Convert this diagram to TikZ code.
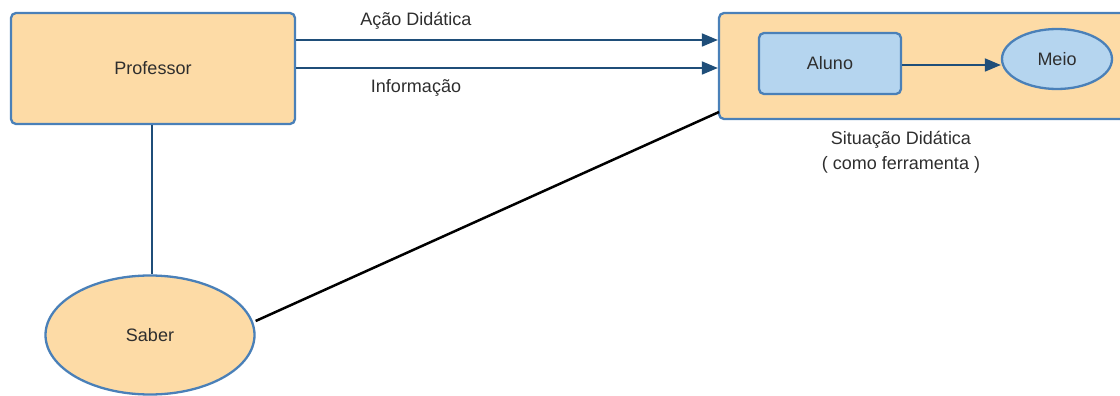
\documentclass[tikz,border=0pt]{standalone}
\usepackage{fontspec}
\setmainfont{Liberation Sans}
\usetikzlibrary{shapes.geometric,arrows.meta}
\definecolor{peach}{HTML}{FDDBA6}
\definecolor{lblue}{HTML}{B5D5EF}
\definecolor{bord}{HTML}{4A80B8}
\definecolor{arr}{HTML}{1F4E79}
\definecolor{txt}{HTML}{2E2E2E}
\tikzset{
  lbl/.style={text=txt,font=\fontsize{18}{21}\selectfont,inner sep=0pt},
  peachbox/.style={draw=bord,line width=2.3pt,fill=peach,rounded corners=5pt,text=txt,font=\fontsize{18}{21}\selectfont},
  bluebox/.style={draw=bord,line width=2.3pt,fill=lblue,rounded corners=5pt,text=txt,font=\fontsize{18}{21}\selectfont},
  arrowln/.style={draw=arr,line width=1.8pt,-{Triangle[length=16pt,width=13pt]}},
}
\begin{document}
\begin{tikzpicture}[x=1pt,y=-1pt]
\useasboundingbox (0,0) rectangle (1120,396);
\node[peachbox,minimum width=284pt,minimum height=111pt] (prof) at (153,68.5) {Professor};
\node[peachbox,minimum width=406pt,minimum height=106pt] (sit) at (922,66) {};
\node[bluebox,minimum width=142pt,minimum height=61pt] (aluno) at (830,63.5) {Aluno};
\node[ellipse,draw=bord,line width=2.3pt,fill=lblue,minimum width=110pt,minimum height=60pt,text=txt,font=\fontsize{18}{21}\selectfont] (meio) at (1057,59) {Meio};
\node[ellipse,draw=bord,line width=2.3pt,fill=peach,minimum width=209pt,minimum height=119pt,text=txt,font=\fontsize{18}{21}\selectfont] (saber) at (150,335) {Saber};
\draw[arrowln] (prof.east |- 0,40) -- (sit.west |- 0,40);
\draw[arrowln] (prof.east |- 0,68) -- (sit.west |- 0,68);
\draw[arrowln] (aluno.east |- 0,65) -- (meio.west |- 0,65);
\node[lbl] (acao) at (416,21) {Ação Didática};
\node[lbl] (info) at (416,88) {Informação};
\node[lbl,align=center] (sitlbl) at (901,152) {Situação Didática\\[4pt]( como ferramenta )};
\draw[draw=arr,line width=1.8pt] (prof.south -| 152,0) -- (saber.north -| 152,0);
\draw[black,line width=2.5pt] (saber.east |- 0,321) -- (719,112);
\end{tikzpicture}
\end{document}
